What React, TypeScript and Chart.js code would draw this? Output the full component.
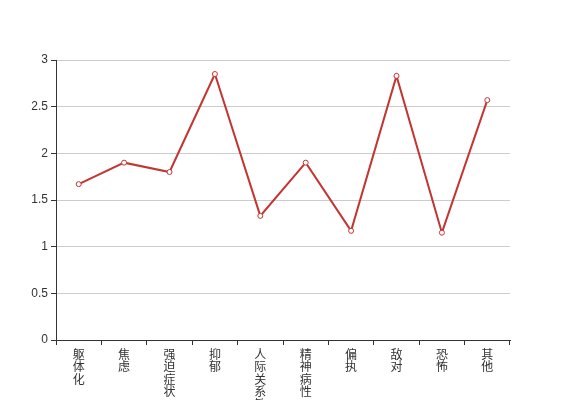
import React, { useEffect, useRef } from "react";
import { Chart, registerables } from "chart.js";

Chart.register(...registerables);

const categories = ["躯体化", "焦虑", "强迫症状", "抑郁", "人际关系敏感", "精神病性", "偏执", "敌对", "恐怖", "其他"];
const values = [1.67, 1.9, 1.8, 2.85, 1.33, 1.9, 1.17, 2.83, 1.15, 2.57];
const yTicks = [0, 0.5, 1, 1.5, 2, 2.5, 3];

const FONT = '"Liberation Sans", "Noto Sans CJK SC", sans-serif';

export default function App() {
  const ref = useRef<HTMLCanvasElement | null>(null);
  useEffect(() => {
    document.body.style.margin = "0";
    const ctx = ref.current!;
    const chart = new Chart(ctx, {
      type: "line",
      data: {
        labels: categories.map((c) => c.split("")),
        datasets: [
          {
            data: values,
            borderColor: "#c23531",
            borderWidth: 2,
            pointRadius: 2.5,
            pointBorderWidth: 1,
            pointBackgroundColor: "#fff",
            pointBorderColor: "#c23531",
            tension: 0,
            fill: false,
          },
        ],
      },
      options: {
        animation: false,
        responsive: false,
        layout: { padding: { top: 60, right: 57, left: 0, bottom: 0 } },
        plugins: { legend: { display: false }, tooltip: { enabled: false } },
        scales: {
          x: {
            offset: true,
            grid: { offset: true, drawOnChartArea: false, drawTicks: true, tickLength: 5, color: "#333", tickColor: "#333" },
            border: { color: "#333", width: 1 },
            ticks: {
              autoSkip: false,
              maxRotation: 0,
              minRotation: 0,
              padding: 4,
              color: "#333",
              font: { family: FONT, size: 12, lineHeight: 1.05 },
            },
            afterFit: (scale: any) => {
              scale.height = 60;
            },
          },
          y: {
            min: 0,
            max: 3,
            afterBuildTicks: (scale: any) => {
              scale.ticks = yTicks.map((v) => ({ value: v }));
            },
            grid: { color: "#ccc", tickColor: "#333", tickLength: 5, lineWidth: 1 },
            border: { color: "#333", width: 1 },
            ticks: {
              padding: 3,
              color: "#333",
              font: { family: FONT, size: 12 },
              callback: (v: any) => String(v),
            },
            afterFit: (scale: any) => {
              scale.width = 56;
            },
          },
        },
      },
    });
    return () => chart.destroy();
  }, []);
  return <canvas ref={ref} width={567} height={400} style={{ display: "block" }} />;
}
